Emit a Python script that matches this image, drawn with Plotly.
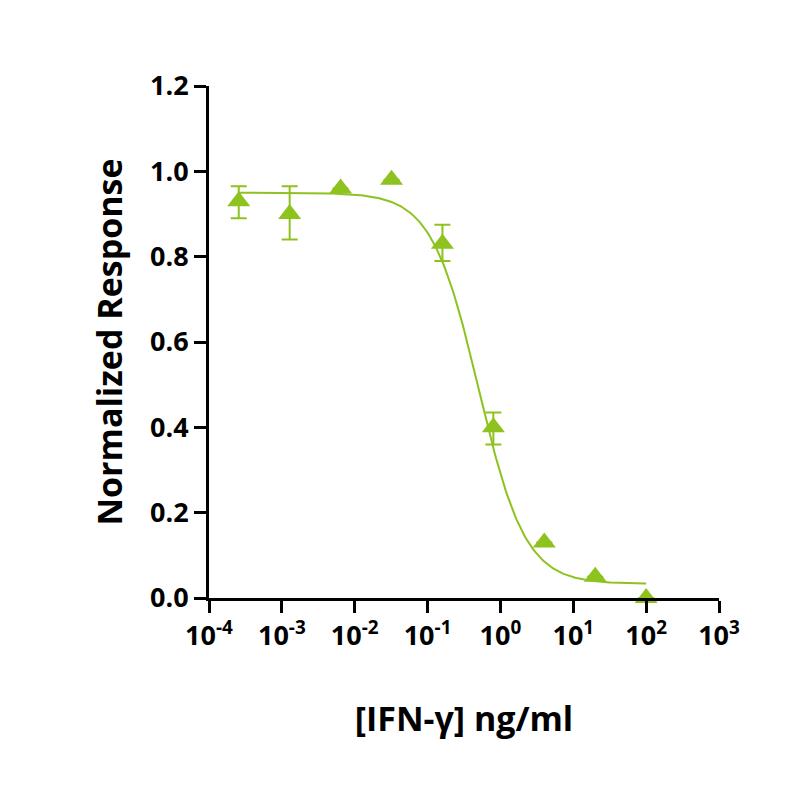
import numpy as np
import plotly.graph_objects as go

conc = [0.000256, 0.00128, 0.0064, 0.032, 0.16, 0.8, 4, 20, 100]
resp = [0.93, 0.90, 0.96, 0.98, 0.83, 0.40, 0.13, 0.05, 0.0]
err_plus = [0.035, 0.065, 0.0, 0.0, 0.045, 0.035, 0.0, 0.0, 0.0]
err_minus = [0.04, 0.06, 0.0, 0.0, 0.04, 0.04, 0.0, 0.0, 0.0]

# 4PL fit parameters
top, bottom, ec50, hill = 0.95, 0.033, 0.5, 1.35

tick_vals = [1e-4, 1e-3, 1e-2, 1e-1, 1, 10, 100, 1000]
tick_text = ["10<sup>-4</sup>", "10<sup>-3</sup>", "10<sup>-2</sup>", "10<sup>-1</sup>",
             "10<sup>0</sup>", "10<sup>1</sup>", "10<sup>2</sup>", "10<sup>3</sup>"]

green = "#8dc21f"
xs = np.logspace(np.log10(conc[0]), np.log10(conc[-1]), 300)
ys = bottom + (top - bottom) / (1 + (xs / ec50) ** hill)

fig = go.Figure()
fig.add_trace(go.Scatter(x=xs, y=ys, mode="lines", line=dict(color=green, width=2),
                         showlegend=False))
fig.add_trace(go.Scatter(x=conc, y=resp, mode="markers", cliponaxis=False,
                         marker=dict(symbol="triangle-up", size=20, color=green),
                         error_y=dict(type="data", array=err_plus, arrayminus=err_minus,
                                      color=green, thickness=2, width=8),
                         showlegend=False))

tickfont = dict(family="Open Sans", size=27, color="black", weight="bold")
fig.update_layout(
    width=800, height=800, plot_bgcolor="white", paper_bgcolor="white",
    margin=dict(l=201, r=89, t=78, b=210),
    font=dict(family="Open Sans", size=24, color="black"),
    xaxis=dict(type="log", range=[-4, 3], tickvals=tick_vals, ticktext=tick_text,
               automargin=False,
               showgrid=False, zeroline=False, showline=True, linecolor="black", linewidth=3,
               ticks="outside", ticklen=12, tickwidth=3, tickcolor="black",
               tickfont=tickfont,
               title=dict(text="<b>[IFN-γ] ng/ml</b>", font=dict(size=34), standoff=55)),
    yaxis=dict(range=[0, 1.2], tickvals=[0, 0.2, 0.4, 0.6, 0.8, 1.0, 1.2],
               ticktext=["0.0", "0.2", "0.4", "0.6", "0.8", "1.0", "1.2"],
               automargin=False,
               showgrid=False, zeroline=False, showline=True, linecolor="black", linewidth=3,
               ticks="outside", ticklen=12, tickwidth=3, tickcolor="black",
               tickfont=tickfont,
               title=dict(text="<b>Normalized Response</b>", font=dict(size=34), standoff=18)),
)
fig.write_html("out.html")
